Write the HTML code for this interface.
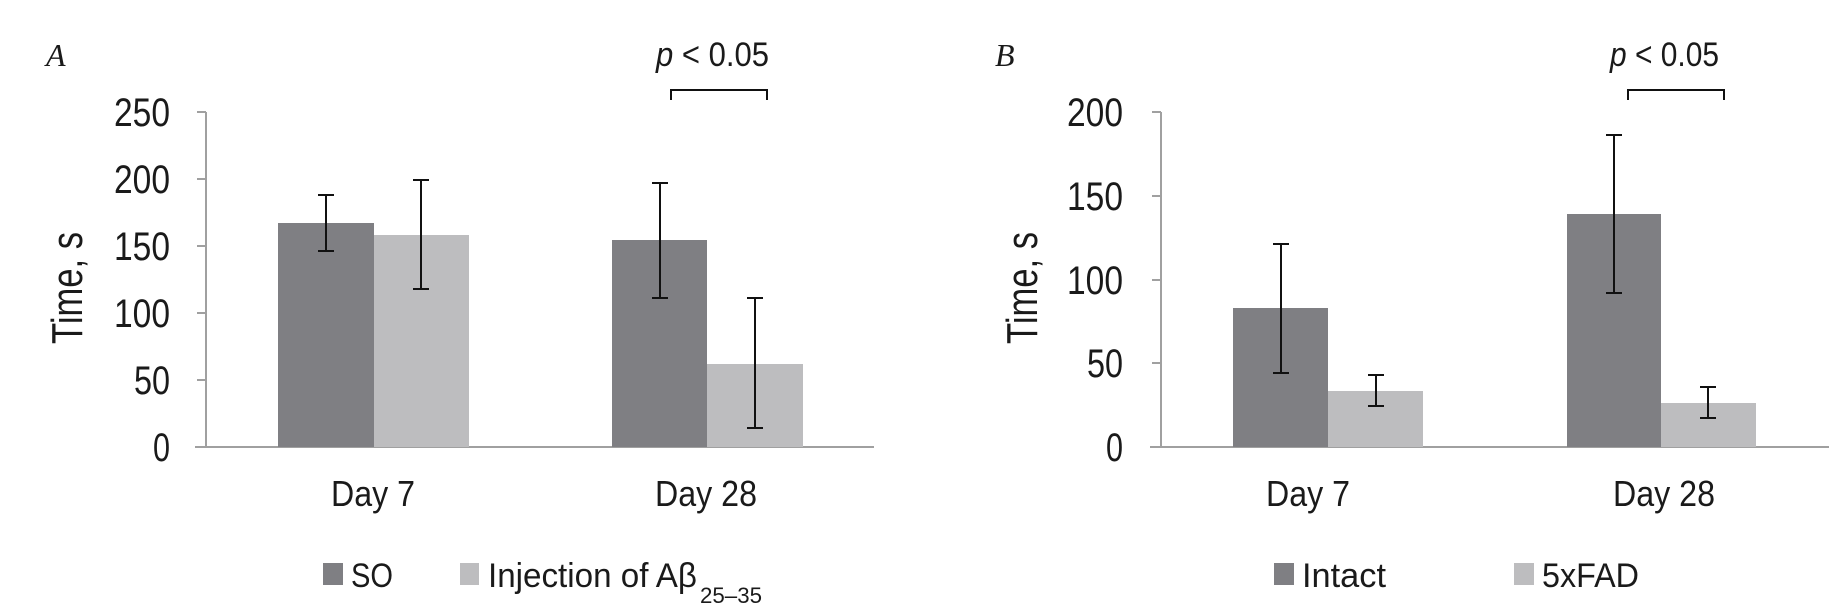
<!DOCTYPE html>
<html><head><meta charset="utf-8"><style>body{margin:0;background:#fff}svg{display:block}</style></head>
<body>
<svg width="1829" height="608" viewBox="0 0 1829 608" xmlns="http://www.w3.org/2000/svg" font-family="Liberation Sans, sans-serif" fill="#1a1a1a">
<!-- Panel A -->
<text x="46" y="66" font-family="Liberation Serif, serif" font-style="italic" font-size="32">A</text>
<g stroke="#a0a0a0" stroke-width="2">
<line x1="206" y1="112" x2="206" y2="448"/>
<line x1="195" y1="447" x2="874" y2="447"/>
<line x1="197" y1="112" x2="206" y2="112"/><line x1="197" y1="179" x2="206" y2="179"/><line x1="197" y1="246" x2="206" y2="246"/><line x1="197" y1="313" x2="206" y2="313"/><line x1="197" y1="380" x2="206" y2="380"/>
</g>
<g font-size="40" text-anchor="end">
<text x="170" y="126" textLength="56" lengthAdjust="spacingAndGlyphs">250</text>
<text x="170" y="193" textLength="56" lengthAdjust="spacingAndGlyphs">200</text>
<text x="170" y="260" textLength="56" lengthAdjust="spacingAndGlyphs">150</text>
<text x="170" y="327" textLength="56" lengthAdjust="spacingAndGlyphs">100</text>
<text x="170" y="394" textLength="36" lengthAdjust="spacingAndGlyphs">50</text>
<text x="170" y="461" textLength="17" lengthAdjust="spacingAndGlyphs">0</text>
</g>
<text transform="translate(82,344) rotate(-90)" font-size="44" textLength="112" lengthAdjust="spacingAndGlyphs">Time, s</text>
<rect x="278" y="223" width="96" height="224" fill="#7f7f83"/>
<rect x="374" y="235" width="95" height="212" fill="#bdbdbf"/>
<rect x="612" y="240" width="95" height="207" fill="#7f7f83"/>
<rect x="707" y="364" width="96" height="83" fill="#bdbdbf"/>
<g stroke="#111" stroke-width="2">
<line x1="326" y1="195" x2="326" y2="251"/><line x1="318" y1="195" x2="334" y2="195"/><line x1="318" y1="251" x2="334" y2="251"/>
<line x1="421" y1="180" x2="421" y2="289"/><line x1="413" y1="180" x2="429" y2="180"/><line x1="413" y1="289" x2="429" y2="289"/>
<line x1="660" y1="183" x2="660" y2="298"/><line x1="652" y1="183" x2="668" y2="183"/><line x1="652" y1="298" x2="668" y2="298"/>
<line x1="755" y1="298" x2="755" y2="428"/><line x1="747" y1="298" x2="763" y2="298"/><line x1="747" y1="428" x2="763" y2="428"/>
<polyline fill="none" points="671,100 671,90 767,90 767,100"/>
</g>
<text x="656" y="66" font-size="34" textLength="113" lengthAdjust="spacingAndGlyphs"><tspan font-style="italic">p</tspan> &lt; 0.05</text>
<text x="373" y="506" font-size="36" text-anchor="middle" textLength="84" lengthAdjust="spacingAndGlyphs">Day 7</text>
<text x="706" y="506" font-size="36" text-anchor="middle" textLength="102" lengthAdjust="spacingAndGlyphs">Day 28</text>
<rect x="323" y="563" width="20" height="22" fill="#7f7f83"/>
<text x="351" y="587" font-size="34" textLength="42" lengthAdjust="spacingAndGlyphs">SO</text>
<rect x="460" y="563" width="19" height="22" fill="#bdbdbf"/>
<text x="488" y="587" font-size="34" textLength="209" lengthAdjust="spacingAndGlyphs">Injection of Aβ</text>
<text x="700" y="603" font-size="22" textLength="62" lengthAdjust="spacingAndGlyphs">25–35</text>
<!-- Panel B -->
<text x="995" y="66" font-family="Liberation Serif, serif" font-style="italic" font-size="32">B</text>
<g stroke="#a0a0a0" stroke-width="2">
<line x1="1161" y1="112" x2="1161" y2="448"/>
<line x1="1150" y1="447" x2="1829" y2="447"/>
<line x1="1152" y1="112" x2="1161" y2="112"/><line x1="1152" y1="196" x2="1161" y2="196"/><line x1="1152" y1="280" x2="1161" y2="280"/><line x1="1152" y1="363" x2="1161" y2="363"/>
</g>
<g font-size="40" text-anchor="end">
<text x="1123" y="126" textLength="56" lengthAdjust="spacingAndGlyphs">200</text>
<text x="1123" y="210" textLength="56" lengthAdjust="spacingAndGlyphs">150</text>
<text x="1123" y="294" textLength="56" lengthAdjust="spacingAndGlyphs">100</text>
<text x="1123" y="377" textLength="36" lengthAdjust="spacingAndGlyphs">50</text>
<text x="1123" y="461" textLength="17" lengthAdjust="spacingAndGlyphs">0</text>
</g>
<text transform="translate(1037,344) rotate(-90)" font-size="44" textLength="112" lengthAdjust="spacingAndGlyphs">Time, s</text>
<rect x="1233" y="308" width="95" height="139" fill="#7f7f83"/>
<rect x="1328" y="391" width="95" height="56" fill="#bdbdbf"/>
<rect x="1567" y="214" width="94" height="233" fill="#7f7f83"/>
<rect x="1661" y="403" width="95" height="44" fill="#bdbdbf"/>
<g stroke="#111" stroke-width="2">
<line x1="1281" y1="244" x2="1281" y2="373"/><line x1="1273" y1="244" x2="1289" y2="244"/><line x1="1273" y1="373" x2="1289" y2="373"/>
<line x1="1376" y1="375" x2="1376" y2="406"/><line x1="1368" y1="375" x2="1384" y2="375"/><line x1="1368" y1="406" x2="1384" y2="406"/>
<line x1="1614" y1="135" x2="1614" y2="293"/><line x1="1606" y1="135" x2="1622" y2="135"/><line x1="1606" y1="293" x2="1622" y2="293"/>
<line x1="1708" y1="387" x2="1708" y2="418"/><line x1="1700" y1="387" x2="1716" y2="387"/><line x1="1700" y1="418" x2="1716" y2="418"/>
<polyline fill="none" points="1628,100 1628,90 1724,90 1724,100"/>
</g>
<text x="1610" y="66" font-size="34" textLength="109" lengthAdjust="spacingAndGlyphs"><tspan font-style="italic">p</tspan> &lt; 0.05</text>
<text x="1308" y="506" font-size="36" text-anchor="middle" textLength="84" lengthAdjust="spacingAndGlyphs">Day 7</text>
<text x="1664" y="506" font-size="36" text-anchor="middle" textLength="102" lengthAdjust="spacingAndGlyphs">Day 28</text>
<rect x="1274" y="563" width="20" height="22" fill="#7f7f83"/>
<text x="1302" y="587" font-size="34" textLength="84" lengthAdjust="spacingAndGlyphs">Intact</text>
<rect x="1514" y="563" width="20" height="22" fill="#bdbdbf"/>
<text x="1542" y="587" font-size="34" textLength="97" lengthAdjust="spacingAndGlyphs">5xFAD</text>
</svg>
</body></html>
